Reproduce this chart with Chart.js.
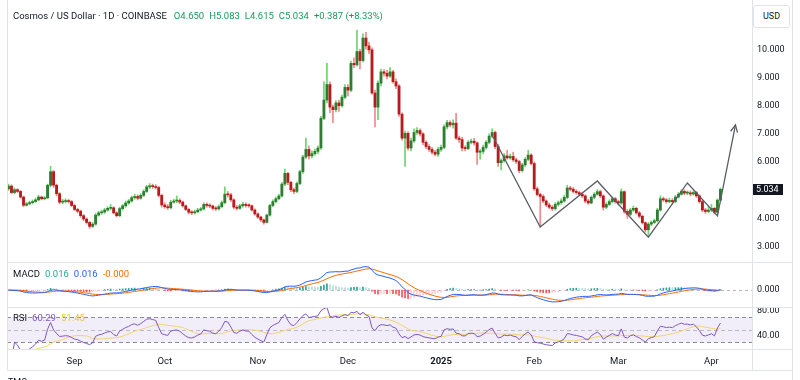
<!DOCTYPE html>
<html><head><meta charset="utf-8">
<script src="https://cdn.jsdelivr.net/npm/chart.js@4.4.1/dist/chart.umd.min.js"></script>
<style>
html,body{margin:0;padding:0;width:800px;height:380px;overflow:hidden;background:#fff;font-family:Roboto,"Liberation Sans",Arial,sans-serif;}
.abs{position:absolute;white-space:nowrap;}
.hl{position:absolute;height:1px;background:#E0E3EB;}
.vl{position:absolute;width:1px;background:#E0E3EB;}
.t9{font-size:9px;line-height:11px;}
.t95{font-size:9.5px;line-height:11px;}
.g{color:#1E9A5A;margin-left:5px;}
.sp{margin-left:5px;}
</style></head><body>
<div class="abs" style="left:7px;top:0;width:793px;height:262px"><canvas id="cMain" width="793" height="262"></canvas></div>
<div class="abs" style="left:7px;top:262px;width:793px;height:45px"><canvas id="cMacd" width="793" height="45"></canvas></div>
<div class="abs" style="left:7px;top:307px;width:793px;height:63px"><canvas id="cRsi" width="793" height="63"></canvas></div>

<div class="vl" style="left:7px;top:0;height:370px"></div>
<div class="vl" style="left:752px;top:0;height:370px"></div>
<div class="vl" style="left:792px;top:0;height:380px"></div>
<div class="hl" style="left:7px;top:262px;width:785px"></div>
<div class="hl" style="left:7px;top:307px;width:785px"></div>
<div class="hl" style="left:7px;top:349px;width:785px"></div>
<div class="hl" style="left:7px;top:370px;width:785px"></div>

<div class="abs t9" style="left:753px;top:5px;width:35px;height:21px;border:1px solid #E0E3EB;border-radius:3px;background:#fff;text-align:center;line-height:21px;color:#131722">USD</div>

<div class="abs t95" style="left:13px;top:10px;color:#131722">Cosmos / US Dollar · 1D · COINBASE<span class="g" style="margin-left:7px">O4.650</span><span class="g">H5.083</span><span class="g">L4.615</span><span class="g">C5.034</span><span class="g">+0.387 (+8.33%)</span></div>

<div class="abs t95" style="left:13px;top:268px;color:#131722">MACD<span class="sp" style="color:#22AB94">0.016</span><span class="sp" style="color:#2962FF">0.016</span><span class="sp" style="color:#FF6D00">-0.000</span></div>

<div class="abs t95" style="left:13px;top:312px;color:#131722">RSI<span class="sp" style="color:#7E57C2">60.29</span><span class="sp" style="color:#E8C547">51.45</span></div>

<div class="abs t9" style="left:8px;top:377px;color:#131722">TMO</div>

<script>
// ---------- data (daily candles, Aug 10 2024 .. Apr 4 2025) ----------
const startDate = [2024, 7, 10];       // year, monthIndex, day of first candle
const rightPadSlots = 10;              // empty days kept at the right edge
const firstOpen = 5.05;
const closes = [
5.15,4.92,5.02,4.96,4.76,4.47,4.52,4.56,4.60,4.66,
4.76,4.70,4.73,5.18,5.66,5.18,4.88,4.58,4.60,4.63,
4.60,4.46,4.32,4.26,4.10,3.98,3.86,3.72,3.80,4.12,
4.20,4.23,4.30,4.36,4.38,4.20,4.10,4.35,4.45,4.55,
4.62,4.74,4.78,4.72,4.82,4.96,5.12,5.16,5.13,5.10,
4.82,4.48,4.42,4.38,4.58,4.62,4.64,4.58,4.45,4.32,
4.22,4.20,4.24,4.30,4.34,4.50,4.46,4.44,4.36,4.34,
4.42,4.56,4.86,4.84,4.66,4.40,4.36,4.45,4.50,4.46,
4.45,4.30,4.16,4.05,3.95,3.86,4.12,4.46,4.60,4.70,
4.80,5.22,5.60,5.28,5.02,4.96,5.24,5.66,6.18,6.45,
6.22,6.30,6.38,6.50,7.55,8.20,8.75,7.95,7.86,8.10,
8.00,8.30,8.65,8.55,9.50,9.45,9.92,9.60,10.40,10.12,
9.98,8.45,7.95,8.80,9.20,9.15,9.05,9.20,8.85,8.70,
7.70,6.85,7.02,6.50,6.75,7.05,7.12,7.00,6.70,6.55,
6.45,6.35,6.28,6.45,6.52,7.25,7.40,7.32,7.38,6.85,
6.80,6.50,6.48,6.70,6.74,6.68,6.35,6.38,6.52,6.70,
6.92,7.05,6.55,5.98,6.05,6.22,6.15,6.20,6.08,6.02,
5.70,5.90,6.10,6.25,5.95,5.05,4.85,4.78,4.62,4.48,
4.40,4.35,4.50,4.56,4.62,4.75,5.08,5.04,4.96,4.92,
4.86,4.80,4.62,4.55,4.75,4.86,4.95,4.80,4.40,4.50,
4.60,4.70,4.60,4.55,4.95,4.25,4.15,4.30,4.36,4.20,
4.08,3.85,3.60,3.80,3.86,3.92,4.30,4.70,4.66,4.60,
4.64,4.60,4.76,4.86,4.96,4.90,4.91,4.87,4.92,4.80,
4.60,4.30,4.25,4.30,4.36,4.22,4.65,5.034];
const highs = [
5.22,5.20,5.08,5.06,4.99,4.80,4.58,4.62,4.66,4.72,
4.82,4.80,4.78,5.22,5.85,5.70,5.22,4.92,4.68,4.70,
4.68,4.64,4.50,4.36,4.30,4.14,4.02,3.90,3.86,4.18,
4.26,4.30,4.36,4.42,4.50,4.42,4.24,4.40,4.50,4.62,
4.68,4.80,4.86,4.84,4.88,5.02,5.18,5.24,5.22,5.20,
5.14,4.86,4.56,4.50,4.64,4.68,4.80,4.70,4.62,4.48,
4.36,4.28,4.30,4.36,4.40,4.56,4.56,4.52,4.48,4.42,
4.48,4.62,5.12,4.96,4.90,4.70,4.46,4.50,4.58,4.56,
4.52,4.48,4.34,4.20,4.08,3.98,4.16,4.50,4.66,4.76,
4.86,5.28,5.75,5.64,5.32,5.08,5.30,5.72,6.24,6.85,
6.58,6.40,6.46,6.58,7.62,8.85,9.50,8.85,8.02,8.18,
8.20,8.38,8.75,8.75,9.58,9.70,10.68,10.00,10.55,10.60,
10.25,10.05,8.55,8.88,9.30,9.28,9.25,9.35,9.25,8.95,
8.75,7.75,7.10,7.08,6.85,7.18,7.22,7.18,7.05,6.75,
6.62,6.52,6.42,6.52,6.60,7.32,7.48,7.46,7.50,7.73,
6.92,6.88,6.58,6.76,6.82,6.84,6.72,6.45,6.60,6.76,
7.00,7.18,7.10,6.62,6.12,6.30,6.42,6.28,6.35,6.14,
6.06,5.96,6.16,6.42,6.30,6.00,5.12,4.90,4.84,4.66,
4.55,4.46,4.56,4.62,4.70,4.82,5.18,5.14,5.10,5.02,
4.96,4.92,4.84,4.68,4.80,4.92,5.02,5.00,4.84,4.56,
4.66,4.76,4.75,4.65,5.05,4.98,4.32,4.36,4.44,4.40,
4.25,4.12,3.88,3.86,3.92,3.98,4.36,4.80,4.76,4.72,
4.72,4.70,4.82,4.92,5.02,5.02,4.98,4.98,4.98,4.96,
4.84,4.64,4.36,4.42,4.50,4.40,4.70,5.083];
const lows = [
5.00,4.88,4.88,4.92,4.72,4.42,4.44,4.49,4.52,4.57,
4.63,4.66,4.66,4.70,5.12,5.10,4.80,4.52,4.52,4.55,
4.55,4.42,4.28,4.20,4.04,3.92,3.80,3.65,3.68,3.76,
4.08,4.15,4.18,4.26,4.30,4.16,4.05,4.06,4.30,4.40,
4.50,4.58,4.68,4.66,4.68,4.78,4.92,5.06,5.06,5.04,
4.76,4.40,4.36,4.32,4.34,4.54,4.56,4.52,4.40,4.28,
4.16,4.14,4.16,4.20,4.26,4.30,4.40,4.38,4.30,4.28,
4.30,4.38,4.52,4.76,4.60,4.34,4.30,4.32,4.40,4.40,
4.40,4.26,4.12,4.00,3.90,3.80,3.84,4.08,4.42,4.55,
4.66,4.76,5.16,5.20,4.95,4.88,4.92,5.20,5.60,6.12,
6.10,6.15,6.24,6.30,6.45,7.50,8.10,7.75,7.40,7.78,
7.80,7.95,8.25,8.35,8.50,9.35,9.40,9.30,9.55,10.00,
9.85,8.40,7.25,7.50,8.70,9.05,8.95,9.00,8.80,8.60,
7.62,6.78,5.85,6.42,6.40,6.70,6.98,6.92,6.62,6.48,
6.38,6.28,6.22,6.20,6.38,6.48,7.18,7.25,7.20,6.80,
6.70,6.40,6.40,6.44,6.64,6.60,5.92,6.10,6.30,6.46,
6.64,6.86,6.48,5.85,5.72,6.00,6.10,6.10,6.02,5.95,
5.62,5.65,5.84,6.05,5.90,5.00,4.80,3.70,4.56,4.42,
4.35,4.28,4.30,4.44,4.50,4.58,4.70,4.98,4.90,4.86,
4.80,4.74,4.56,4.50,4.52,4.70,4.82,4.74,4.30,4.35,
4.46,4.55,4.54,4.48,4.50,4.18,4.00,4.10,4.25,4.15,
4.02,3.80,3.52,3.40,3.74,3.82,3.88,4.26,4.60,4.54,
4.56,4.54,4.56,4.72,4.82,4.84,4.84,4.80,4.82,4.74,
4.54,4.24,4.18,4.20,4.24,4.16,4.18,4.615];

// drawn pattern (zig-zag with arrow): day index and price
const patternIdx  = [161, 177, 196, 213, 226, 236, 242];
const patternVals = [6.96, 3.70, 5.33, 3.34, 5.26, 4.09, 7.32];

// tick labels
const priceTicks = [3, 4, 6, 7, 8, 9, 10];
const macdTicks = [0];
const rsiTicks = [40, 80];
const monthTickDates = ['2024-09-01','2024-10-01','2024-11-01','2024-12-01','2025-01-01','2025-02-01','2025-03-01','2025-04-01'];
const monthTickText  = ['Sep','Oct','Nov','Dec','2025','Feb','Mar','Apr'];

// ---------- derived ----------
const N = closes.length;
const opens = closes.map((c, i) => i === 0 ? firstOpen : closes[i - 1]);
const labels = [];
for (let k = 0; k < N + rightPadSlots; k++) {
  labels.push(new Date(Date.UTC(startDate[0], startDate[1], startDate[2] + k)).toISOString().slice(0, 10));
}
// indicators computed from the close series (MACD 12/26/9, RSI 14 + SMA 14)
function ema(arr, n) { const k = 2 / (n + 1); let p = arr[0]; return arr.map((v, i) => (p = i === 0 ? v : v * k + p * (1 - k))); }
const e12 = ema(closes, 12), e26 = ema(closes, 26);
const macd = closes.map((_, i) => e12[i] - e26[i]);
const signal = ema(macd, 9);
const hist = macd.map((m, i) => m - signal[i]);
const rsi = [null];
let ag = 0, al = 0;
for (let i = 1; i < N; i++) {
  const ch = closes[i] - closes[i - 1], g = Math.max(ch, 0), l = Math.max(-ch, 0);
  if (i <= 14) { ag = (ag * (i - 1) + g) / i; al = (al * (i - 1) + l) / i; }
  else { ag = (ag * 13 + g) / 14; al = (al * 13 + l) / 14; }
  rsi.push(al === 0 ? 100 : 100 - 100 / (1 + ag / al));
}
const rsiMa = rsi.map((v, i) => {
  const w = rsi.slice(Math.max(1, i - 13), i + 1).filter(x => x !== null);
  return w.length ? w.reduce((a, b) => a + b, 0) / w.length : null;
});

// ---------- styling ----------
const FONT = 'Roboto, "Liberation Sans", Arial, sans-serif';
Chart.defaults.font.family = FONT;
Chart.defaults.animation = false;
const AXIS_W = 48;
const UP_BODY = '#2E7D32', UP_WICK = '#6ED46E', DN_BODY = '#B71C1C', DN_WICK = '#EE8A8A';
const TICK_COLOR = '#131722';

function xScale(display) {
  return {
    type: 'category', offset: true, display,
    grid: { display: false, drawTicks: false }, border: { display: false },
    afterBuildTicks(s) { s.ticks = monthTickDates.map(d => ({ value: labels.indexOf(d) })); },
    afterFit(s) { if (display) s.height = 21; s.paddingLeft = 0; s.paddingRight = 0; },
    ticks: {
      autoSkip: false, maxRotation: 0, padding: 7, color: TICK_COLOR,
      font: (ctx) => ({ size: 9.5, weight: (ctx.tick && labels[ctx.tick.value] === '2025-01-01') ? 'bold' : 'normal' }),
      callback: (v) => monthTickText[monthTickDates.indexOf(labels[v])]
    }
  };
}
function yScale(min, max, ticks, digits) {
  return {
    position: 'right', min, max,
    grid: { display: false, drawTicks: false }, border: { display: false },
    afterBuildTicks(s) { s.ticks = ticks.map(v => ({ value: v })); },
    afterFit(s) { s.width = AXIS_W; s.paddingTop = 0; s.paddingBottom = 0; },
    ticks: { padding: 5, color: TICK_COLOR, font: { size: 9 }, callback: v => Number(v).toFixed(digits) }
  };
}
const panelLines = {
  id: 'panelLines',
  beforeDatasetsDraw(chart, args, opts) {
    const { ctx, chartArea: a } = chart; const y = chart.scales.y;
    ctx.save();
    if (opts.band) {
      const t = y.getPixelForValue(opts.band[1]), b = y.getPixelForValue(opts.band[0]);
      ctx.fillStyle = opts.bandColor; ctx.fillRect(a.left, t, a.right - a.left, b - t);
    }
    (opts.lines || []).forEach(l => {
      const py = Math.round(y.getPixelForValue(l.value)) + 0.5;
      ctx.strokeStyle = l.color; ctx.lineWidth = 1; ctx.setLineDash(l.dash);
      ctx.beginPath(); ctx.moveTo(a.left, py); ctx.lineTo(a.right, py); ctx.stroke();
    });
    ctx.restore();
  }
};
const arrowHead = {
  id: 'arrowHead',
  afterDatasetsDraw(chart) {
    const meta = chart.getDatasetMeta(2); const pts = meta.data; if (pts.length < 2) return;
    const p1 = pts[pts.length - 2], p2 = pts[pts.length - 1];
    const ang = Math.atan2(p2.y - p1.y, p2.x - p1.x), L = 8, w = 0.45;
    const ctx = chart.ctx; ctx.save(); ctx.strokeStyle = '#5a5d66'; ctx.lineWidth = 1.3;
    ctx.beginPath();
    ctx.moveTo(p2.x - L * Math.cos(ang - w), p2.y - L * Math.sin(ang - w));
    ctx.lineTo(p2.x, p2.y);
    ctx.lineTo(p2.x - L * Math.cos(ang + w), p2.y - L * Math.sin(ang + w));
    ctx.stroke(); ctx.restore();
  }
};
const priceTag = {
  id: 'priceTag',
  afterDraw(chart) {
    const { ctx, chartArea: a } = chart; const y = chart.scales.y.getPixelForValue(closes[N - 1]);
    ctx.save(); ctx.fillStyle = '#131722'; ctx.fillRect(a.right + 1, Math.round(y) - 5, 30, 11);
    ctx.fillStyle = '#fff'; ctx.font = '9px ' + FONT; ctx.textBaseline = 'middle'; ctx.textAlign = 'left';
    ctx.fillText(closes[N - 1].toFixed(3), a.right + 4, Math.round(y) + 0.5); ctx.restore();
  }
};

// ---------- main price chart ----------
new Chart(document.getElementById('cMain'), {
  type: 'bar',
  data: {
    labels,
    datasets: [
      { label: 'wick', data: closes.map((c, i) => [lows[i], highs[i]]), grouped: false, barThickness: 1, order: 3,
        backgroundColor: ctx => closes[ctx.dataIndex] >= opens[ctx.dataIndex] ? UP_WICK : DN_WICK },
      { label: 'body', data: closes.map((c, i) => [opens[i], c]), grouped: false, barThickness: 2.2, minBarLength: 1, order: 2,
        backgroundColor: ctx => closes[ctx.dataIndex] >= opens[ctx.dataIndex] ? UP_BODY : DN_BODY },
      { type: 'line', label: 'pattern', data: patternIdx.map((k, j) => ({ x: labels[k], y: patternVals[j] })),
        borderColor: '#5a5d66', borderWidth: 1.3, pointRadius: 0, tension: 0, order: 1 }
    ]
  },
  options: {
    responsive: false, animation: false, layout: { padding: 0 },
    plugins: { legend: { display: false }, tooltip: { enabled: false } },
    scales: { x: xScale(false), y: yScale(2.457, 11.748, priceTicks, 3) }
  },
  plugins: [arrowHead, priceTag]
});

// ---------- MACD ----------
const macdPeak = Math.max(...macd, ...signal);
const macdMax = macdPeak * 28 / 23.3, macdMin = -macdMax * 17 / 28;
new Chart(document.getElementById('cMacd'), {
  type: 'bar',
  data: {
    labels,
    datasets: [
      { type: 'line', data: macd, borderColor: '#2962FF', borderWidth: 1, pointRadius: 0, tension: 0, order: 1 },
      { type: 'line', data: signal, borderColor: '#FF6D00', borderWidth: 1, pointRadius: 0, tension: 0, order: 2 },
      { type: 'bar', data: hist, barThickness: 1, grouped: false, order: 3,
        backgroundColor: ctx => { const i = ctx.dataIndex, h = hist[i], p = i > 0 ? hist[i - 1] : h;
          return h >= 0 ? (h > p ? '#26A69A' : '#B2DFDB') : (h < p ? '#FF5252' : '#FFCDD2'); } }
    ]
  },
  options: {
    responsive: false, animation: false, layout: { padding: 0 },
    plugins: { legend: { display: false }, tooltip: { enabled: false },
      panelLines: { lines: [{ value: 0, color: 'rgba(120,123,134,0.55)', dash: [3, 3] }] } },
    scales: { x: xScale(false), y: yScale(macdMin, macdMax, macdTicks, 3) }
  },
  plugins: [panelLines]
});

// ---------- RSI ----------
new Chart(document.getElementById('cRsi'), {
  type: 'line',
  data: {
    labels,
    datasets: [
      { data: rsi, borderColor: '#7E57C2', borderWidth: 1, pointRadius: 0, tension: 0 },
      { data: rsiMa, borderColor: '#F2D36B', borderWidth: 1, pointRadius: 0, tension: 0 }
    ]
  },
  options: {
    responsive: false, animation: false, layout: { padding: 0 },
    plugins: { legend: { display: false }, tooltip: { enabled: false },
      panelLines: { band: [30, 70], bandColor: 'rgba(126,87,194,0.10)',
        lines: [{ value: 70, color: '#8a8d96', dash: [4, 3] }, { value: 50, color: 'rgba(120,123,134,0.45)', dash: [4, 3] }, { value: 30, color: '#8a8d96', dash: [4, 3] }] } },
    scales: { x: xScale(true), y: yScale(19.3, 86.5, rsiTicks, 2) }
  },
  plugins: [panelLines]
});
</script>
</body></html>
